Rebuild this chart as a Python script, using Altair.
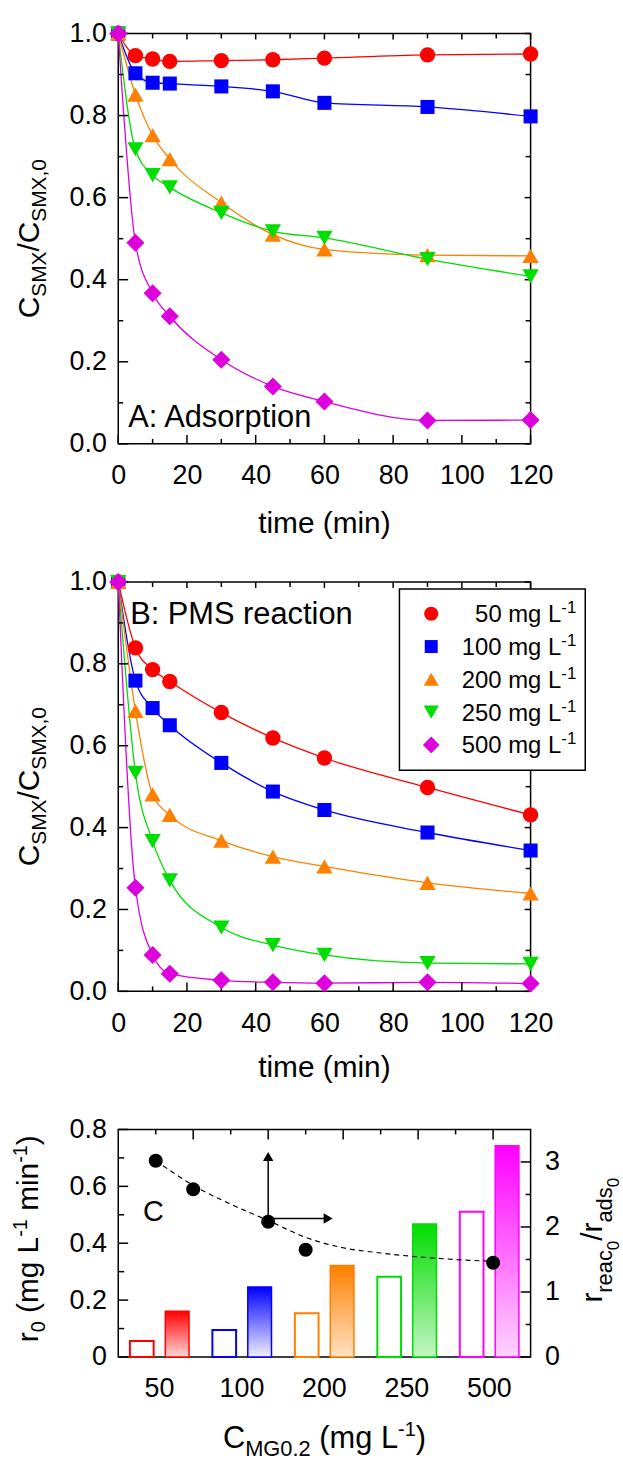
import altair as alt
import pandas as pd

FONT = "Liberation Sans"

# ---------------- data ----------------
time_min = [0, 5, 10, 15, 30, 45, 60, 90, 120]
series = ["50", "100", "200", "250", "500"]
colors = ["#ff0000", "#0000ff", "#ff8000", "#00dd00", "#dd00dd"]
shapes = ["circle", "square", "triangle-up", "triangle-down", "diamond"]
sizes = [240, 200, 270, 270, 330]

ads_50 = [1.0, 0.946, 0.938, 0.932, 0.934, 0.936, 0.940, 0.948, 0.950]
ads_100 = [1.0, 0.903, 0.880, 0.878, 0.871, 0.859, 0.831, 0.821, 0.798]
ads_200 = [1.0, 0.851, 0.752, 0.694, 0.588, 0.510, 0.474, 0.460, 0.458]
ads_250 = [1.0, 0.718, 0.655, 0.625, 0.563, 0.518, 0.502, 0.450, 0.408]
ads_500 = [1.0, 0.490, 0.367, 0.311, 0.205, 0.140, 0.103, 0.057, 0.058]

pms_50 = [1.0, 0.839, 0.786, 0.757, 0.681, 0.619, 0.570, 0.498, 0.431]
pms_100 = [1.0, 0.759, 0.692, 0.650, 0.558, 0.488, 0.443, 0.388, 0.344]
pms_200 = [1.0, 0.685, 0.481, 0.431, 0.368, 0.329, 0.305, 0.265, 0.239]
pms_250 = [1.0, 0.534, 0.367, 0.271, 0.156, 0.113, 0.089, 0.069, 0.067]
pms_500 = [1.0, 0.253, 0.089, 0.043, 0.027, 0.022, 0.020, 0.022, 0.019]

conc_labels = ["50", "100", "200", "250", "500"]
r0_ads = [0.056, 0.095, 0.154, 0.282, 0.511]
r0_reac = [0.161, 0.246, 0.322, 0.468, 0.743]
bar_colors = ["#ff0000", "#0000ff", "#ff8000", "#00dd00", "#ff00ff"]
bar_light = ["#ffd6d6", "#f0f0ff", "#ffe2c4", "#c4f5c4", "#ffd4ff"]

ratio_x = [50, 100, 200, 250, 500]
ratio_y = [3.02, 2.58, 2.08, 1.65, 1.45]
fit_x = [50, 100, 150, 200, 250, 300, 350, 400, 450, 500]
fit_y = [3.02, 2.64, 2.35, 2.10, 1.84, 1.68, 1.60, 1.54, 1.50, 1.47]

arrow_x = [200, 200]
arrow_y = [2.10, 2.13]
arrow_x2 = [200, 280]
arrow_y2 = [3.085, 2.13]
head_shape = ["triangle-up", "triangle-right"]

t_major = [0, 20, 40, 60, 80, 100, 120]
t_minor = [10, 30, 50, 70, 90, 110]
c_major = [0, 0.2, 0.4, 0.6, 0.8, 1.0]
c_minor = [0.1, 0.3, 0.5, 0.7, 0.9]
r_major = [0, 0.2, 0.4, 0.6, 0.8]
r_minor = [0.1, 0.3, 0.5, 0.7]
q_major = [0, 1, 2, 3]
q_minor = [0.5, 1.5, 2.5]
top_major = [100, 200, 300, 400, 500]
top_minor = [50, 150, 250, 350, 450]

# ---------------- layout ----------------
W = 415
HA, HB, HC = 413, 412, 229
FRAME_LEFT, FRAME_TOP = 118, 27.5

ARIAL = {" ": 278, "(": 333, ")": 333, ",": 278, "-": 333, ".": 278, "/": 278, ":": 278,
         "0": 556, "1": 556, "2": 556, "5": 556, "A": 667, "B": 667, "C": 722, "G": 778,
         "L": 556, "M": 833, "P": 667, "S": 667, "X": 667, "a": 556, "c": 500, "d": 556,
         "e": 556, "g": 556, "i": 222, "m": 833, "n": 556, "o": 556, "p": 556, "r": 333,
         "s": 500, "t": 278}


def tw(s, fs):
    return sum(ARIAL.get(ch, 556) for ch in s) * fs / 1000.0


def one():
    return pd.DataFrame({"k": [0]})


def rich(pieces, x, y, angle=0, anchor="center"):
    total = sum(tw(t, fs) for t, fs, _ in pieces)
    adv = {"center": -total / 2, "left": 0.0, "right": -total}[anchor]
    out = []
    for t, fs, sh in pieces:
        lead = len(t) - len(t.lstrip(" "))
        a = adv + tw(" " * lead, fs)
        txt = t.strip(" ")
        if txt:
            if angle == 0:
                px, py = x + a, y + sh
            else:
                px, py = x + sh, y - a
            out.append(
                alt.Chart(pd.DataFrame({"t": [txt]}))
                .mark_text(font=FONT, fontSize=fs, align="left", baseline="alphabetic",
                           angle=angle, color="black")
                .encode(text="t:N", x=alt.value(px), y=alt.value(py))
            )
        adv += tw(t, fs)
    return out


def vticks(vals, sc, ax, H, L, side):
    df = pd.DataFrame({"tv": vals})
    y1, y2 = (H, H - L) if side == "bottom" else (0, L)
    return alt.Chart(df).mark_rule(color="black", strokeWidth=1.5).encode(
        x=alt.X("tv:Q", scale=sc, axis=ax), y=alt.value(y1), y2=alt.value(y2))


def hticks(vals, sc, ax, L, side):
    df = pd.DataFrame({"tv": vals})
    x1, x2 = (0, L) if side == "left" else (W, W - L)
    return alt.Chart(df).mark_rule(color="black", strokeWidth=1.5).encode(
        y=alt.Y("tv:Q", scale=sc, axis=ax), x=alt.value(x1), x2=alt.value(x2))


def kinetics_panel(values_lists, H, label, lx, ly, with_legend, xtitle_dy, anchor=False):
    rows = []
    for s, vals in zip(series, values_lists):
        for t, v in zip(time_min, vals):
            rows.append({"t": t, "v": v, "s": s})
    df = pd.DataFrame(rows)
    xsc = alt.Scale(domain=[0, 120], nice=False)
    ysc = alt.Scale(domain=[0, 1], nice=False)
    xax = alt.Axis(values=t_major, format="d", title=None, ticks=False, domain=False,
                   grid=False, labelPadding=19, labelFlush=False, labelOverlap=False)
    yax = alt.Axis(values=c_major, format=".1f", title=None, ticks=False, domain=False,
                   grid=False, labelPadding=12, labelFlush=False, labelOverlap=False)
    lines = alt.Chart(df).mark_line(strokeWidth=1.3, interpolate="monotone").encode(
        x=alt.X("t:Q", scale=xsc, axis=xax),
        y=alt.Y("v:Q", scale=ysc, axis=yax),
        stroke=alt.Stroke("s:N", scale=alt.Scale(domain=series, range=colors), legend=None),
        detail="s:N",
    )
    pts = []
    for s, col, shp, sz in zip(series, colors, shapes, sizes):
        pts.append(
            alt.Chart(df).transform_filter(alt.datum.s == s)
            .mark_point(filled=True, opacity=1, size=sz, shape=shp, color=col)
            .encode(x=alt.X("t:Q", scale=xsc, axis=xax), y=alt.Y("v:Q", scale=ysc, axis=yax)))
    ticks = [
        vticks(t_major, xsc, xax, H, 9, "bottom"), vticks(t_minor, xsc, xax, H, 5, "bottom"),
        vticks(t_major, xsc, xax, H, 6, "top"), vticks(t_minor, xsc, xax, H, 5, "top"),
        hticks(c_major, ysc, yax, 10, "left"), hticks(c_minor, ysc, yax, 5, "left"),
        hticks(c_major, ysc, yax, 6, "right"), hticks(c_minor, ysc, yax, 5, "right"),
    ]
    texts = []
    texts += rich([("C", 30, 0), ("SMX", 21, 7), ("/C", 30, 0), ("SMX,0", 21, 7)],
                  -80, H / 2, angle=270)
    texts += rich([("time (min)", 30, 0)], W / 2, H + xtitle_dy)
    texts += rich([(label, 31, 0)], lx, ly, anchor="left")

    legend = []
    if with_legend:
        legend.append(alt.Chart(one()).mark_rect(fill="white", stroke="black", strokeWidth=1.5)
                      .encode(x=alt.value(283), x2=alt.value(470),
                              y=alt.value(7), y2=alt.value(189.5)))
        for i, (s, col, shp, sz) in enumerate(zip(series, colors, shapes, sizes)):
            ry = 32 + 33 * i
            legend.append(alt.Chart(one()).mark_point(filled=True, opacity=1, size=sz * 0.85,
                                                      shape=shp, color=col)
                          .encode(x=alt.value(315), y=alt.value(ry)))
            legend += rich([(s + " mg L", 24, 0), ("-1", 17, -9)], 461, ry + 8.5,
                           anchor="right")
    extra = []
    if anchor:
        # invisible marker fixing the page's top-left corner
        extra.append(alt.Chart(one()).mark_rule(opacity=0, strokeWidth=0.1).encode(
            x=alt.value(-FRAME_LEFT), x2=alt.value(-FRAME_LEFT + 1),
            y=alt.value(-FRAME_TOP), y2=alt.value(-FRAME_TOP + 1)))
    return alt.layer(lines, *ticks, *pts, *texts, *legend, *extra).properties(width=W, height=H)


panelA = kinetics_panel([ads_50, ads_100, ads_200, ads_250, ads_500], HA,
                        "A: Adsorption", 10, 396, False, 90, anchor=True)
panelB = kinetics_panel([pms_50, pms_100, pms_200, pms_250, pms_500], HB,
                        "B: PMS reaction", 12, 42, True, 86)

# ---------------- panel C ----------------
dfC = pd.DataFrame({"c": conc_labels * 2, "typ": ["ads"] * 5 + ["reac"] * 5,
                    "r": r0_ads + r0_reac})
xband = alt.X("c:N", sort=conc_labels,
              scale=alt.Scale(domain=conc_labels, paddingInner=0, paddingOuter=0),
              axis=alt.Axis(title=None, labelAngle=0, ticks=False, domain=False, grid=False,
                            labelPadding=19))
xoff = alt.XOffset("typ:N", scale=alt.Scale(domain=["ads", "reac"], paddingInner=0.33,
                                             paddingOuter=0.33))
ylsc = alt.Scale(domain=[0, 0.8], nice=False)
ylax = alt.Axis(values=r_major, title=None, ticks=False, domain=False, grid=False,
                labelPadding=12, labelFlush=False, labelOverlap=False,
                labelExpr="datum.value == 0 ? '0' : format(datum.value, '.1f')")
yl = alt.Y("r:Q", scale=ylsc, axis=ylax)

open_bars = alt.Chart(dfC).transform_filter(alt.datum.typ == "ads").mark_bar(
    fill="white", strokeWidth=2).encode(
    x=xband, xOffset=xoff, y=yl,
    stroke=alt.Stroke("c:N", scale=alt.Scale(domain=conc_labels, range=bar_colors), legend=None))

filled_bars = []
for c, col, light in zip(conc_labels, bar_colors, bar_light):
    grad = {"gradient": "linear", "x1": 0, "x2": 0, "y1": 0, "y2": 1,
            "stops": [{"offset": 0, "color": col}, {"offset": 1, "color": light}]}
    filled_bars.append(
        alt.Chart(dfC).transform_filter((alt.datum.typ == "reac") & (alt.datum.c == c))
        .mark_bar(fill=grad, stroke=col, strokeWidth=1.5)
        .encode(x=xband, xOffset=xoff, y=yl))

bars_group = alt.layer(open_bars, *filled_bars,
                       hticks(r_major, ylsc, ylax, 10, "left"),
                       hticks(r_minor, ylsc, ylax, 6, "left"))

xqsc = alt.Scale(domain=[0, 550], nice=False)
yrsc = alt.Scale(domain=[0, 3.5], nice=False)
yrax = alt.Axis(orient="right", values=q_major, format="d", title=None, ticks=False,
                domain=False, grid=False, labelPadding=14, labelFlush=False, labelOverlap=False)
xq = alt.X("x:Q", scale=xqsc, axis=None)
yr = alt.Y("y:Q", scale=yrsc, axis=yrax)

curve = alt.Chart(pd.DataFrame({"x": fit_x, "y": fit_y})).mark_line(
    color="black", strokeDash=[5, 4], strokeWidth=1.2, interpolate="monotone").encode(x=xq, y=yr)
dots = alt.Chart(pd.DataFrame({"x": ratio_x, "y": ratio_y})).mark_point(
    filled=True, color="black", opacity=1, size=200, shape="circle").encode(x=xq, y=yr)
arrows = alt.Chart(pd.DataFrame({"x": arrow_x, "y": arrow_y, "x2": arrow_x2, "y2": arrow_y2})
                   ).mark_rule(color="black", strokeWidth=1.5).encode(
    x=xq, y=yr, x2="x2:Q", y2="y2:Q")
heads = alt.Chart(pd.DataFrame({"x": arrow_x2, "y": arrow_y2, "sh": head_shape})).mark_point(
    filled=True, color="black", opacity=1, size=110).encode(
    x=xq, y=yr, shape=alt.Shape("sh:N", scale=None))

pts_group = alt.layer(
    curve, dots, arrows, heads,
    vticks(top_major, xqsc, None, HC, 10, "top"), vticks(top_minor, xqsc, None, HC, 5, "top"),
    hticks(q_major, yrsc, yrax, 10, "right"), hticks(q_minor, yrsc, yrax, 5, "right"),
)

textsC = []
textsC += rich([("r", 30, 0), ("0", 20, 7), (" (mg L", 30, 0), ("-1", 20, -11),
                (" min", 30, 0), ("-1", 20, -11), (")", 30, 0)], -81, 110, angle=270)
textsC += rich([("r", 30, 0), ("reac", 22, 10), ("0", 17, 17), ("/r", 30, 0),
                ("ads", 22, 10), ("0", 17, 17)], W + 72, 111.5, angle=270)
textsC += rich([("C", 31, 0), ("MG0.2", 22, 8), (" (mg L", 31, 0), ("-1", 20, -12),
                (")", 31, 0)], W / 2, HC + 92)
textsC += rich([("C", 29, 0)], 25, 92.5, anchor="left")

panelC = alt.layer(bars_group, pts_group, *textsC).resolve_scale(
    x="independent", y="independent").properties(width=W, height=HC)

chart = alt.vconcat(panelA, panelB, panelC, spacing=139, bounds="flush").resolve_scale(
    stroke="independent"
).properties(
    padding={"left": 0, "top": 0, "right": 0, "bottom": 0}, background="white"
).configure_view(stroke="black", strokeWidth=1.5).configure_axis(
    labelFont=FONT, labelFontSize=27, labelColor="black")

chart.save("out.html", embed_options={"renderer": "svg", "actions": False})
